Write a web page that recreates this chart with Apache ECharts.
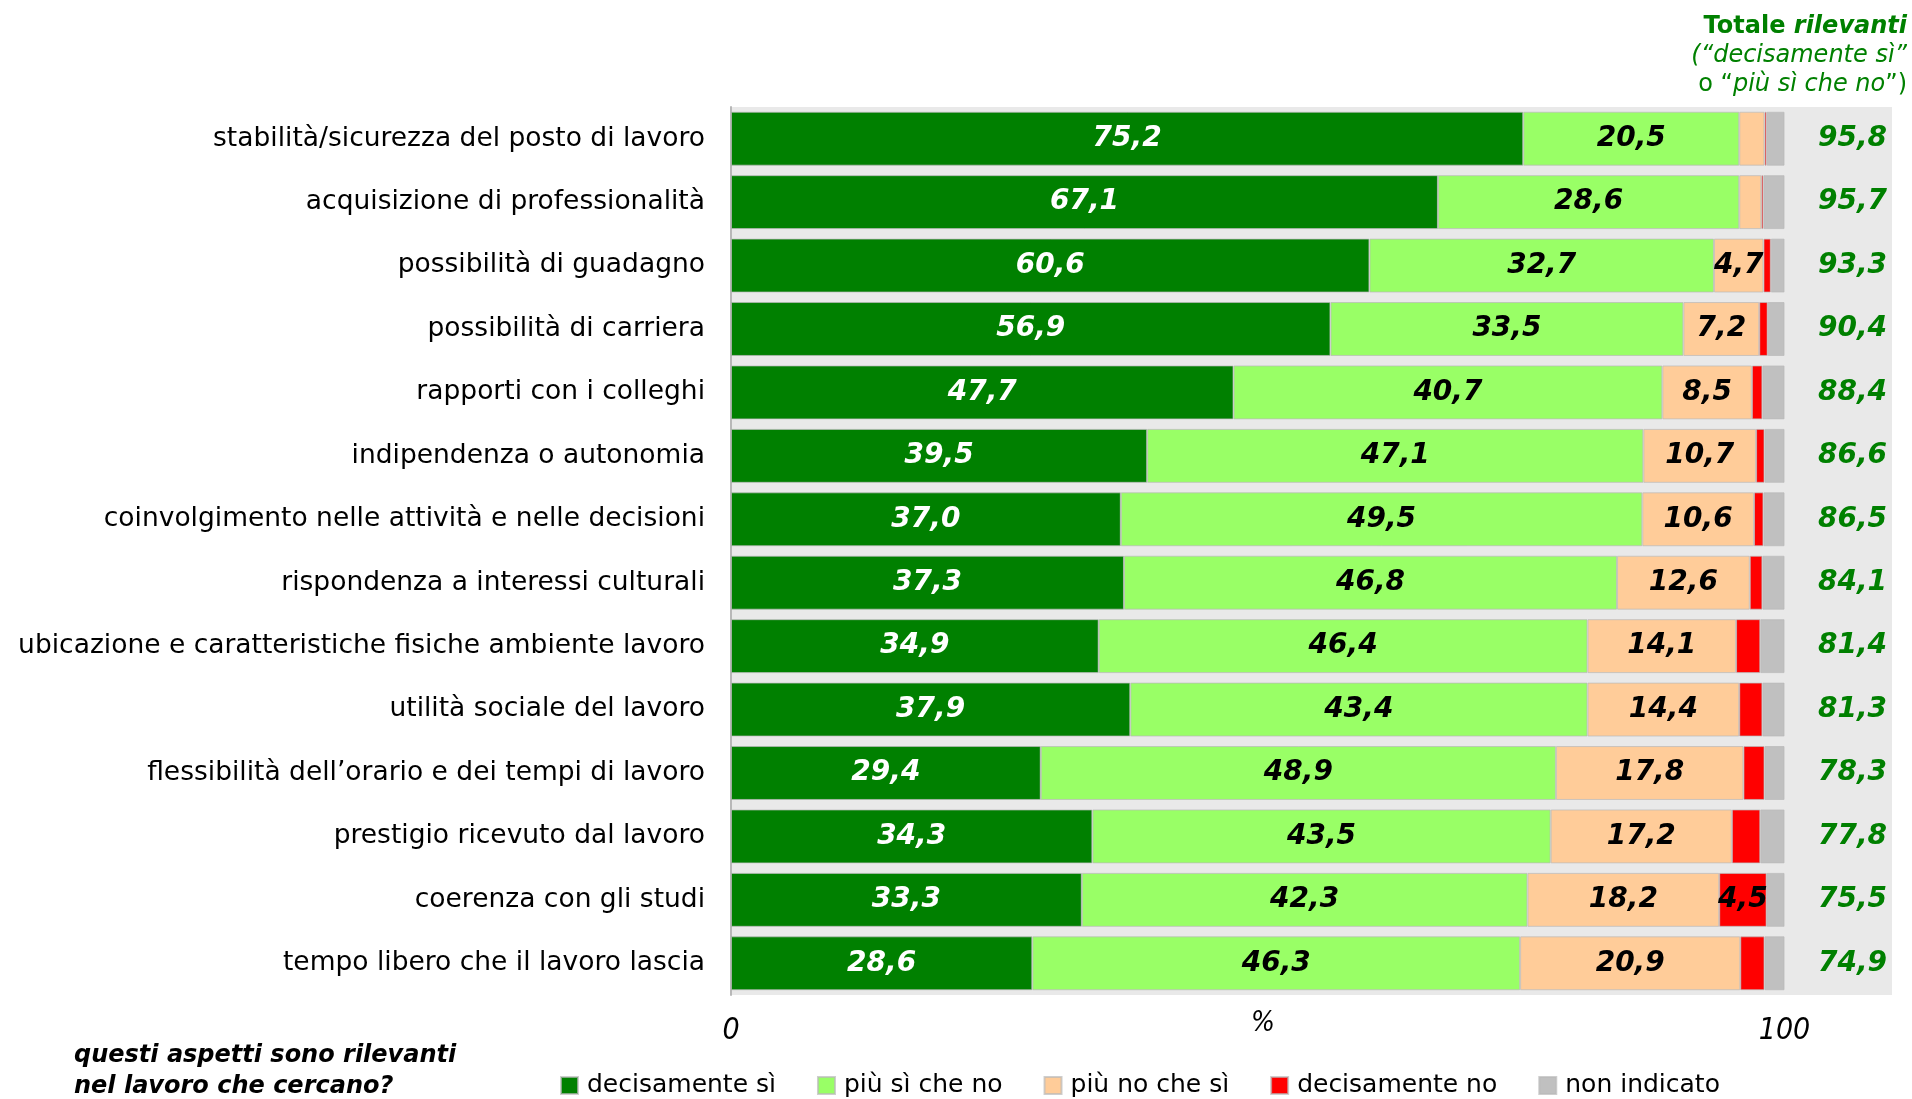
<!DOCTYPE html>
<html>
<head>
<meta charset="utf-8">
<script src="https://cdn.jsdelivr.net/npm/echarts@6/dist/echarts.min.js"></script>
<style>
  html, body { margin: 0; padding: 0; background: #fff; }
  #chart { width: 1912px; height: 1099px; }
</style>
</head>
<body>
<div id="chart"></div>
<script>
// aspetti del lavoro, dall'alto in basso
const categories = [
  'stabilità/sicurezza del posto di lavoro',
  'acquisizione di professionalità',
  'possibilità di guadagno',
  'possibilità di carriera',
  'rapporti con i colleghi',
  'indipendenza o autonomia',
  'coinvolgimento nelle attività e nelle decisioni',
  'rispondenza a interessi culturali',
  'ubicazione e caratteristiche fisiche ambiente lavoro',
  'utilità sociale del lavoro',
  'flessibilità dell’orario e dei tempi di lavoro',
  'prestigio ricevuto dal lavoro',
  'coerenza con gli studi',
  'tempo libero che il lavoro lascia'
];
const decisamenteSi = [75.2, 67.1, 60.6, 56.9, 47.7, 39.5, 37.0, 37.3, 34.9, 37.9, 29.4, 34.3, 33.3, 28.6];
const piuSiCheNo = [20.5, 28.6, 32.7, 33.5, 40.7, 47.1, 49.5, 46.8, 46.4, 43.4, 48.9, 43.5, 42.3, 46.3];
const piuNoCheSi = [2.4, 2.1, 4.7, 7.2, 8.5, 10.7, 10.6, 12.6, 14.1, 14.4, 17.8, 17.2, 18.2, 20.9];
const decisamenteNo = [0.2, 0.2, 0.7, 0.8, 1.0, 0.8, 0.9, 1.2, 2.3, 2.2, 2.0, 2.7, 4.5, 2.3];
const nonIndicato = [1.7, 2.0, 1.3, 1.6, 2.1, 1.9, 2.0, 2.1, 2.3, 2.1, 1.9, 2.3, 1.7, 1.9];
const totaleRilevanti = [95.8, 95.7, 93.3, 90.4, 88.4, 86.6, 86.5, 84.1, 81.4, 81.3, 78.3, 77.8, 75.5, 74.9];
const xTicks = [0, 100];

const fmt = v => v.toFixed(1).replace('.', ',');
const narrow = "'Liberation Sans Narrow', 'DejaVu Sans Condensed', sans-serif";
const sans = "'DejaVu Sans', Verdana, sans-serif";

const makeSeries = (name, data, color, labelColor) => ({
  name: name,
  type: 'bar',
  stack: 'tot',
  data: data,
  barCategoryGap: '15%',
  itemStyle: { color: color, borderColor: 'rgba(185,185,185,0.7)', borderWidth: 1 },
  label: {
    show: true,
    position: 'inside',
    formatter: p => (p.value >= 4 ? fmt(p.value) : ''),
    color: labelColor,
    fontFamily: sans,
    fontSize: 28,
    fontWeight: 'bold',
    fontStyle: 'italic'
  },
  emphasis: { disabled: true }
});

const chart = echarts.init(document.getElementById('chart'));
chart.setOption({
  animation: false,
  grid: {
    left: 731, right: 20, top: 107, bottom: 104,
    show: true, backgroundColor: '#e9e9e9', borderWidth: 0
  },
  legend: {
    left: 555, top: 1068,
    icon: 'rect', itemWidth: 17, itemHeight: 17, itemGap: 41,
    textStyle: { fontFamily: sans, fontSize: 25, color: '#000', padding: [0, 0, 0, 4] },
    data: ['decisamente sì', 'più sì che no', 'più no che sì', 'decisamente no', 'non indicato']
  },
  xAxis: {
    type: 'value', min: 0, max: 110.2, interval: 100,
    splitLine: { show: false }, axisLine: { show: false }, axisTick: { show: false },
    axisLabel: {
      margin: 21,
      formatter: v => (xTicks.indexOf(v) >= 0 ? String(v) : ''),
      fontFamily: narrow, fontStyle: 'italic', fontSize: 30, color: '#000'
    }
  },
  yAxis: [{
    type: 'category', inverse: true, data: categories,
    axisLine: { show: true, lineStyle: { color: '#b8b8b8', width: 2 } },
    axisTick: { show: false },
    axisLabel: { margin: 26, fontFamily: sans, fontSize: 26.5, color: '#000' }
  }, {
    type: 'category', inverse: true, position: 'right',
    data: totaleRilevanti.map(fmt),
    axisLine: { show: false }, axisTick: { show: false },
    axisLabel: {
      inside: true, margin: 5,
      fontFamily: sans, fontSize: 28, fontWeight: 'bold', fontStyle: 'italic', color: '#008000'
    }
  }],
  series: [
    makeSeries('decisamente sì', decisamenteSi, '#008000', '#fff'),
    makeSeries('più sì che no', piuSiCheNo, '#99ff66', '#000'),
    makeSeries('più no che sì', piuNoCheSi, '#ffcc99', '#000'),
    makeSeries('decisamente no', decisamenteNo, '#ff0000', '#000'),
    makeSeries('non indicato', nonIndicato, '#c0c0c0', '#000')
  ],
  graphic: [{
    type: 'text', right: 5, top: 15,
    style: {
      text: '{b|Totale }{bi|rilevanti}\n{i|(“decisamente sì”}\n{r|o “}{i|più sì che no}{r|”)}',
      align: 'right',
      rich: {
        b: { fontFamily: sans, fontSize: 24, fontWeight: 'bold', fill: '#008000', lineHeight: 29, align: 'right' },
        bi: { fontFamily: sans, fontSize: 24, fontWeight: 'bold', fontStyle: 'italic', fill: '#008000', lineHeight: 29, align: 'right' },
        i: { fontFamily: sans, fontSize: 24, fontStyle: 'italic', fill: '#008000', lineHeight: 29, align: 'right' },
        r: { fontFamily: sans, fontSize: 24, fill: '#008000', lineHeight: 29, align: 'right' }
      }
    }
  }, {
    type: 'text', left: 1251, top: 1010,
    style: { text: '%', fontFamily: narrow, fontStyle: 'italic', fontSize: 28, fill: '#000' }
  }, {
    type: 'text', left: 74, top: 1040,
    style: {
      text: 'questi aspetti sono rilevanti\nnel lavoro che cercano?',
      fontFamily: sans, fontSize: 24, fontWeight: 'bold', fontStyle: 'italic',
      fill: '#000', lineHeight: 31
    }
  }]
});
</script>
</body>
</html>
